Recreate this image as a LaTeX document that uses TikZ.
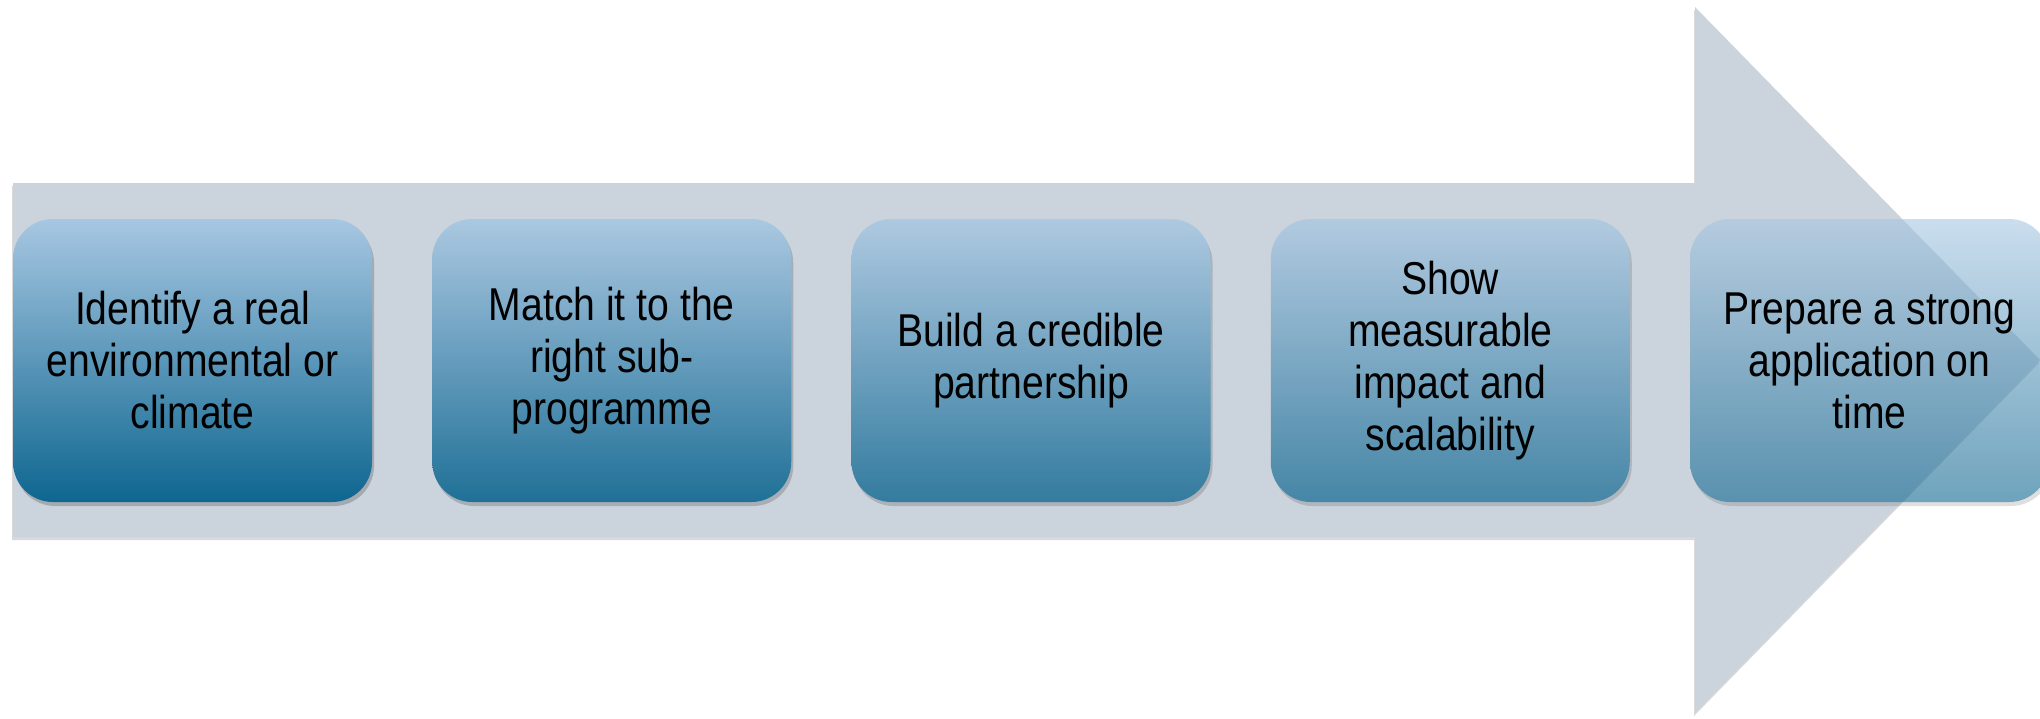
\documentclass[tikz,border=0pt]{standalone}
\usepackage{fontspec}
\setmainfont[FakeStretch=0.85]{Liberation Sans}
\usetikzlibrary{shadows}

\definecolor{arrowgray}{RGB}{203,211,220}
\definecolor{boxtop}{RGB}{167,199,226}
\definecolor{boxbottom}{RGB}{14,102,144}

\begin{document}
\begin{tikzpicture}[
  stepbox/.style={rectangle, rounded corners=0.4cm, minimum width=3.59cm, minimum height=2.83cm,
    top color=boxtop, bottom color=boxbottom,
    drop shadow={shadow xshift=0.02cm, shadow yshift=-0.04cm, opacity=0.3, fill=black!70}},
  steptext/.style={align=center, text=black, font=\fontsize{13.1}{14.8}\selectfont}
]

% Frame of the picture
\useasboundingbox (0,0) rectangle (20.4,7.18);
\clip (0,0) rectangle (20.4,7.18);

% Big arrow in the background
\fill[arrowgray, drop shadow={shadow xshift=-0.01cm, shadow yshift=-0.03cm, opacity=0.25, fill=black!60}]
  (0.13,1.81) -- (16.95,1.81) -- (16.95,0.05) -- (20.40,3.58)
  -- (16.95,7.11) -- (16.95,5.35) -- (0.13,5.35) -- cycle;

% Steps (each box a little more transparent)
\foreach \op/\txt [count=\i] in {
    1/{Identify a real\\environmental or\\climate},
    0.9/{Match it to the\\right sub-\\programme},
    0.8/{Build a credible\\partnership},
    0.7/{Show\\measurable\\impact and\\scalability},
    0.6/{Prepare a strong\\application on\\time}} {
  % Box
  \begin{scope}[transparency group, opacity=\op]
    \node[stepbox] (S\i) at ({1.925+4.1925*(\i-1)},3.575) {};
  \end{scope}
  % Text of the step
  \node[steptext] (T\i) at (S\i) {\txt};
}

\end{tikzpicture}
\end{document}
